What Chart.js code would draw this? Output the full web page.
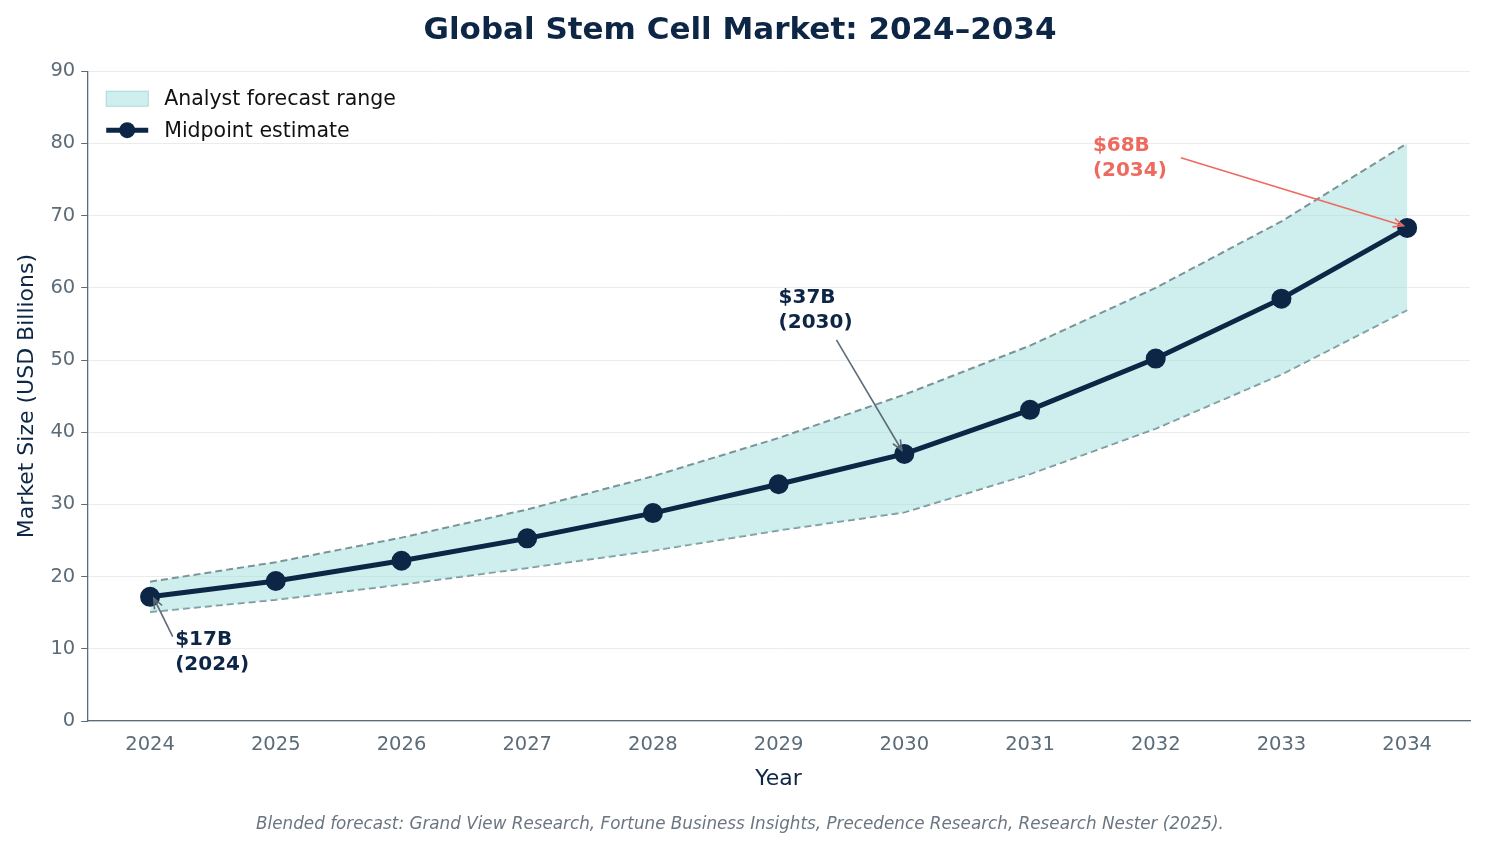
<!DOCTYPE html>
<html><head><meta charset="utf-8">
<script src="https://cdn.jsdelivr.net/npm/chart.js@4/dist/chart.umd.min.js"></script>
<style>html,body{margin:0;background:#fff}#wrap{width:1485px;height:853px}</style>
</head><body><div id="wrap"><canvas id="c"></canvas></div>
<script>
const years = [2024, 2025, 2026, 2027, 2028, 2029, 2030, 2031, 2032, 2033, 2034];
const midpoint = [17.2, 19.4, 22.2, 25.3, 28.8, 32.8, 37.0, 43.1, 50.2, 58.5, 68.3];
const upper = [19.3, 22.0, 25.4, 29.3, 33.9, 39.2, 45.2, 52.0, 60.0, 69.2, 80.0];
const lower = [15.1, 16.8, 18.9, 21.2, 23.6, 26.4, 28.9, 34.2, 40.5, 48.0, 56.9];
const yTicks = [0, 10, 20, 30, 40, 50, 60, 70, 80, 90];

const navy = '#0d2645';
const FONT = 'DejaVu Sans';
const pts = arr => arr.map((v, i) => ({x: years[i], y: v}));

// annotations: text anchor (data coords) and arrow start/end
const notes = [
  {lines: ['$17B', '(2024)'], tx: 2024.2, ty: 12.6, color: navy, arrow: '#5c6b78', from: [2024.18, 11.7], to: [2024.03, 17.0]},
  {lines: ['$37B', '(2030)'], tx: 2029.0, ty: 60.0, color: navy, arrow: '#5c6b78', from: [2029.46, 52.8], to: [2029.98, 37.5]},
  {lines: ['$68B', '(2034)'], tx: 2031.5, ty: 81.0, color: '#ee6a5f', arrow: '#ee6a5f', from: [2032.2, 78.0], to: [2033.97, 68.6]}
];

const annotPlugin = {
  id: 'annot',
  afterDatasetsDraw(chart) {
    const {ctx, scales: {x, y}, chartArea} = chart;
    ctx.save();
    ctx.font = `bold 20px ${FONT}`;
    ctx.textBaseline = 'top';
    notes.forEach(n => {
      ctx.fillStyle = n.color;
      n.lines.forEach((l, i) => ctx.fillText(l, x.getPixelForValue(n.tx), y.getPixelForValue(n.ty) + i * 25));
      const x1 = x.getPixelForValue(n.from[0]), y1 = y.getPixelForValue(n.from[1]);
      const x2 = x.getPixelForValue(n.to[0]), y2 = y.getPixelForValue(n.to[1]);
      ctx.strokeStyle = n.arrow; ctx.lineWidth = 1.6;
      ctx.beginPath(); ctx.moveTo(x1, y1); ctx.lineTo(x2, y2); ctx.stroke();
      const a = Math.atan2(y2 - y1, x2 - x1);
      ctx.beginPath();
      ctx.moveTo(x2 - 11 * Math.cos(a - 0.4), y2 - 11 * Math.sin(a - 0.4));
      ctx.lineTo(x2, y2);
      ctx.lineTo(x2 - 11 * Math.cos(a + 0.4), y2 - 11 * Math.sin(a + 0.4));
      ctx.stroke();
    });
    // legend
    const lx = chartArea.left + 19, ly = chartArea.top + 27;
    ctx.fillStyle = 'rgba(160,222,222,0.5)'; ctx.strokeStyle = '#a8dada'; ctx.lineWidth = 1;
    ctx.fillRect(lx, ly - 7, 42, 15); ctx.strokeRect(lx, ly - 7, 42, 15);
    ctx.strokeStyle = navy; ctx.lineWidth = 5;
    ctx.beginPath(); ctx.moveTo(lx, ly + 32); ctx.lineTo(lx + 42, ly + 32); ctx.stroke();
    ctx.fillStyle = navy; ctx.beginPath(); ctx.arc(lx + 21, ly + 32, 8, 0, Math.PI * 2); ctx.fill();
    ctx.font = `20.5px ${FONT}`; ctx.textBaseline = 'middle'; ctx.fillStyle = '#111';
    ctx.fillText('Analyst forecast range', lx + 58, ly + 1);
    ctx.fillText('Midpoint estimate', lx + 58, ly + 33);
    ctx.restore();
  }
};

new Chart(document.getElementById('c'), {
  type: 'line',
  data: {
    datasets: [
      {data: pts(lower), borderColor: '#7a9498', borderDash: [7, 4], borderWidth: 2, pointRadius: 0, fill: false, order: 2},
      {data: pts(upper), borderColor: '#7a9498', borderDash: [7, 4], borderWidth: 2, pointRadius: 0,
       fill: {target: 0}, backgroundColor: 'rgba(160,222,222,0.5)', order: 1},
      {data: pts(midpoint), borderColor: navy, borderWidth: 5, pointRadius: 7.5, pointBackgroundColor: navy,
       pointBorderColor: navy, fill: false, order: -1}
    ]
  },
  options: {
    responsive: true, maintainAspectRatio: false, animation: false,
    layout: {padding: {left: 10, right: 15, top: 0, bottom: 6}},
    plugins: {
      legend: {display: false}, tooltip: {enabled: false},
      title: {display: true, text: 'Global Stem Cell Market: 2024–2034', color: navy,
        font: {family: FONT, size: 31, weight: 'bold'}, padding: {top: 12, bottom: 22}},
      subtitle: {display: true, position: 'bottom', text: 'Blended forecast: Grand View Research, Fortune Business Insights, Precedence Research, Research Nester (2025).',
        color: '#6b7580', font: {family: FONT, size: 16.8, style: 'italic'}, padding: {top: 18, bottom: 12}}
    },
    scales: {
      x: {type: 'linear', min: 2023.5, max: 2034.5,
        afterBuildTicks: ax => { ax.ticks = years.map(v => ({value: v})); },
        ticks: {color: '#5c6b78', font: {family: FONT, size: 19.5}, callback: v => String(v), padding: 6},
        grid: {display: false, drawTicks: true, tickLength: 6, tickColor: '#5c6b78'},
        border: {color: '#5c6b78', width: 1.3},
        title: {display: true, text: 'Year', color: navy, font: {family: FONT, size: 22}, padding: {top: 4}}},
      y: {min: 0, max: 90,
        afterBuildTicks: ax => { ax.ticks = yTicks.map(v => ({value: v})); },
        ticks: {color: '#5c6b78', font: {family: FONT, size: 19.5}, padding: 6},
        grid: {color: 'rgba(0,0,0,0.08)', borderDash: [2, 3], tickColor: '#5c6b78', tickLength: 6},
        border: {color: '#5c6b78', width: 1.3},
        title: {display: true, text: 'Market Size (USD Billions)', color: navy, font: {family: FONT, size: 22}}}
    }
  },
  plugins: [annotPlugin]
});
</script></body></html>
